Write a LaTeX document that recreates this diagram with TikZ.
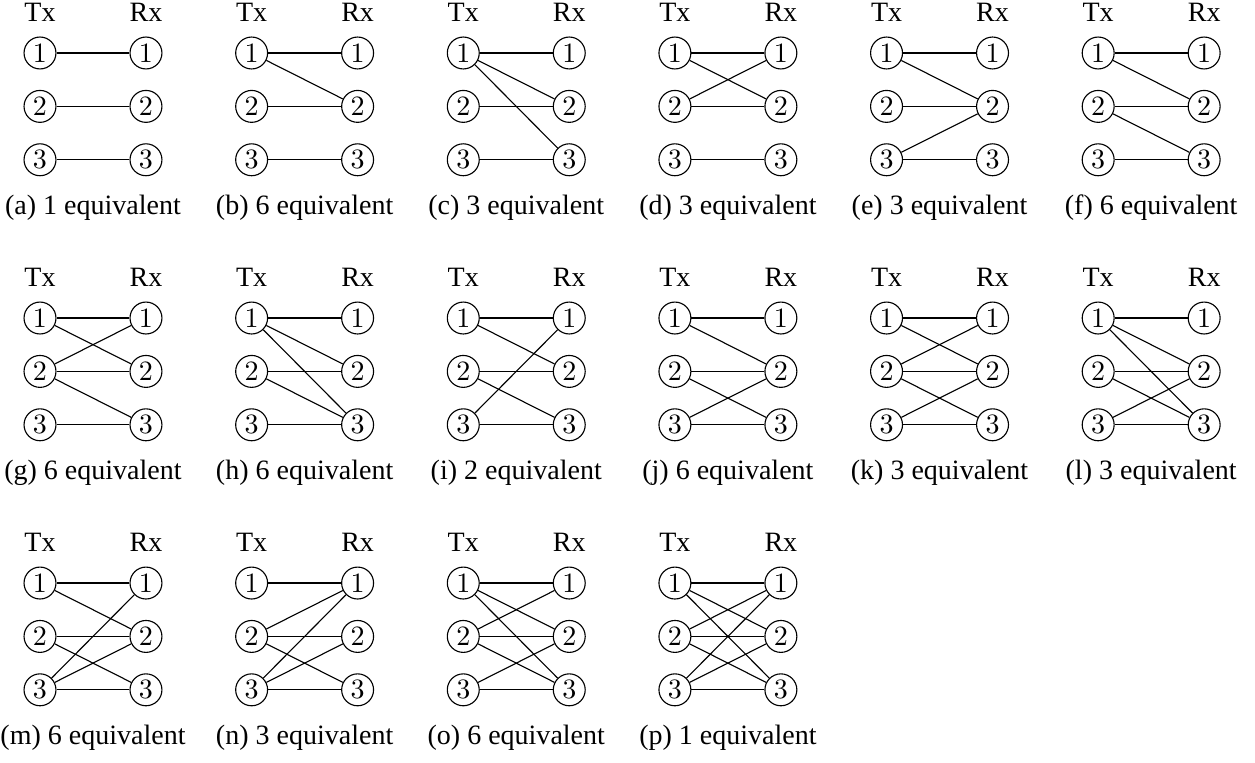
\documentclass[tikz,border=0pt]{standalone}
\usepackage[no-math]{fontspec}
\setmainfont{Liberation Serif}
\tikzset{
	port/.style={circle, draw, inner sep=0pt, minimum size=11.4pt},
	side/.style={anchor=base},
	subcap/.style={anchor=base}
}
\begin{document}
\begin{tikzpicture}
	\useasboundingbox (0,0) rectangle (15.75,-9.563);
	% label/column/row/count/edges (tx/rx)
	\foreach \lab/\col/\row/\num/\edges in {
		a/0/0/1/{1/1,2/2,3/3},
		b/1/0/6/{1/1,1/2,2/2,3/3},
		c/2/0/3/{1/1,1/2,1/3,2/2,3/3},
		d/3/0/3/{1/1,1/2,2/1,2/2,3/3},
		e/4/0/3/{1/1,1/2,2/2,3/2,3/3},
		f/5/0/6/{1/1,1/2,2/2,2/3,3/3},
		g/0/1/6/{1/1,1/2,2/1,2/2,2/3,3/3},
		h/1/1/6/{1/1,1/2,1/3,2/2,2/3,3/3},
		i/2/1/2/{1/1,1/2,2/2,2/3,3/1,3/3},
		j/3/1/6/{1/1,1/2,2/2,2/3,3/2,3/3},
		k/4/1/3/{1/1,1/2,2/1,2/2,2/3,3/2,3/3},
		l/5/1/3/{1/1,1/2,1/3,2/2,2/3,3/2,3/3},
		m/0/2/6/{1/1,1/2,2/2,2/3,3/1,3/2,3/3},
		n/1/2/3/{1/1,2/1,2/2,2/3,3/1,3/2,3/3},
		o/2/2/6/{1/1,1/2,1/3,2/1,2/2,2/3,3/2,3/3},
		p/3/2/1/{1/1,1/2,1/3,2/1,2/2,2/3,3/1,3/2,3/3}%
	}{
		\begin{scope}[shift={(0.502+2.656*\col,-0.665-3.326*\row)}]
			\foreach \k in {1,2,3} {
				\node[port] (\lab-t\k) at (0,0.67-0.67*\k) {$\k$};
				\node[port] (\lab-r\k) at (1.33,0.67-0.67*\k) {$\k$};
			}
			\node[side] (\lab-tx) at (0,0.40) {Tx};
			\node[side] (\lab-rx) at (1.33,0.40) {Rx};
			\foreach \i/\j in \edges \draw (\lab-t\i) -- (\lab-r\j);
			\node[subcap] (\lab-cap) at (0.665,-2.03) {(\lab) \num\ equivalent};
		\end{scope}
	}
\end{tikzpicture}
\end{document}
